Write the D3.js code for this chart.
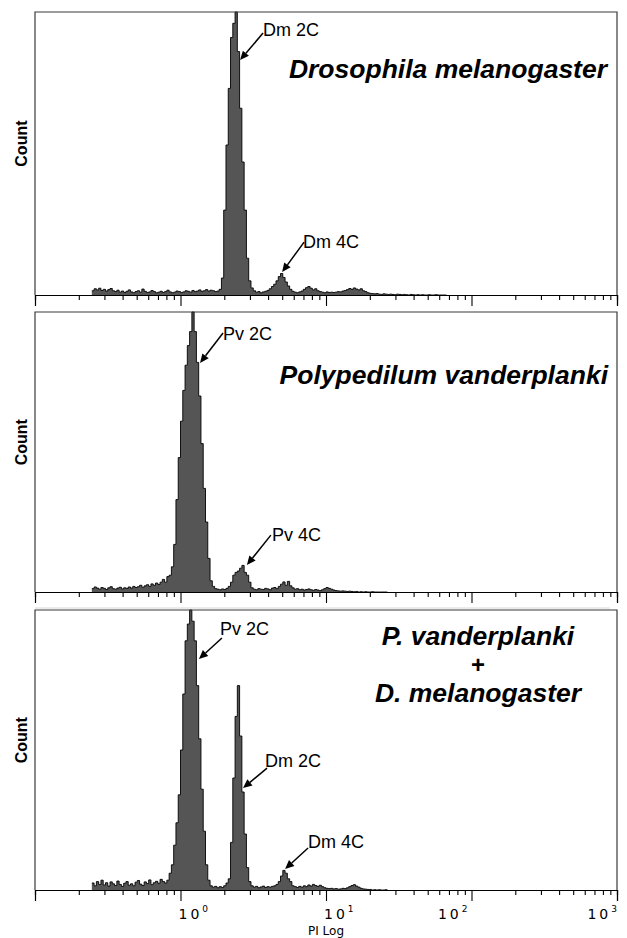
<!DOCTYPE html>
<html>
<head>
    <meta charset="utf-8">
    <title>PI Log histograms</title>
    <script src="https://d3js.org/d3.v7.min.js" charset="utf-8"></script>
    <style>
        html, body { margin: 0; padding: 0; background: #fff; }
        text { font-family: "Liberation Sans", Arial, sans-serif; }
    </style>
</head>
<body>
<div id="chart"></div>
<script>
    // histogram channels: 64 per decade, first stored channel is 25
    const channelsPerDecade = 64;
    const firstChannel = 25;

    // Drosophila melanogaster alone (percent of full scale)
    const dmCounts = [
        1.5, 2.2, 1.8, 2.4, 1.6, 2.0, 1.4, 1.9, 2.3, 1.5,
        1.2, 1.7, 1.0, 1.4, 0.9, 1.3, 1.8, 1.1, 0.8, 1.2,
        1.5, 1.0, 2.1, 1.3, 0.9, 1.1, 1.6, 1.2, 0.8, 1.0,
        1.3, 0.9, 1.2, 1.7, 1.1, 0.8, 1.0, 1.4, 1.2, 0.9,
        1.1, 1.5, 1.3, 1.0, 1.6, 1.2, 1.4, 1.8, 1.3, 1.5,
        1.9, 1.4, 1.7, 1.5, 1.2, 1.4,
        2.0, 6, 30, 53, 73, 91, 96, 100, 86, 66,
        47, 30, 13, 5, 2.5, 1.5, 1.0, 1.2, 0.8, 1.1,
        1.3, 1.6, 2.2, 3.0, 3.8, 5.0, 6.5, 7.6, 6.2, 4.6,
        3.2, 2.0, 1.3, 1.0, 0.8, 1.1, 1.4, 2.0, 2.6, 3.0,
        2.4, 1.8, 2.2, 1.5, 1.2, 1.0, 0.8, 1.1, 0.9, 1.0,
        0.9, 1.0, 1.2, 1.1, 1.4, 1.6, 1.9, 2.3, 2.0, 2.5,
        2.1, 1.8, 2.2, 1.5, 1.2, 0.8, 0.6, 0.5, 0.4, 0.5,
        0.3, 0.2, 0.4, 0.3, 0.2, 0.3, 0.2, 0.1, 0.3, 0.2,
        0.1, 0.2, 0.1, 0, 0.2, 0.1, 0, 0.1, 0, 0.1,
        0, 0, 0.1, 0, 0, 0.1, 0, 0, 0, 0
    ];

    // Polypedilum vanderplanki alone
    const pvCounts = [
        1.2, 1.8, 1.4, 1.0, 1.6, 1.3, 0.9, 1.5, 1.9, 1.2,
        1.0, 1.4, 1.7, 1.1, 1.5, 1.3, 1.8, 1.4, 2.0, 1.6,
        1.9, 2.4, 1.7, 2.2, 2.6, 2.0, 2.9, 2.4, 3.2, 2.7,
        3.5, 4.5, 3.5, 5.5, 6, 9, 17, 33, 48, 61,
        72, 81, 88, 93, 100, 93, 82, 70, 53, 37,
        25, 12, 4, 2, 1.2, 1.0, 0.8, 1.1, 0.9, 1.3,
        2, 3.5, 6, 7, 7.5, 8.5, 9.5, 7, 6, 3.5,
        1.5, 1.0, 0.8, 1.2, 1.0, 0.9, 1.3, 1.1, 0.8, 1.4,
        1.6, 1.2, 2.0, 2.8, 3.6, 2.4, 3.8, 2.2, 1.5, 1.0,
        1.2, 0.8, 1.0, 0.7, 0.9, 1.1, 0.8, 0.6, 0.9, 0.7,
        0.5, 0.8, 1.2, 1.6, 1.3, 1.0, 0.7, 0.5, 0.4, 0.3,
        0.4, 0.3, 0.2, 0.3, 0.2, 0.1, 0.2, 0, 0.1, 0,
        0.1, 0, 0, 0.1, 0, 0, 0, 0, 0, 0
    ];

    // mixed sample P. vanderplanki + D. melanogaster
    const mixCounts = [
        2.5, 1.5, 3.0, 2.0, 3.5, 1.8, 2.6, 1.4, 2.9, 2.2,
        1.6, 3.2, 2.0, 1.3, 2.4, 3.0, 1.7, 2.2, 1.5, 2.8,
        3.4, 2.1, 1.6, 2.9, 2.3, 3.6, 1.9, 2.6, 3.1, 2.4,
        3.8, 3, 2.5, 3.5, 6, 9, 16, 24, 34, 50,
        70, 89, 95, 100, 96, 89, 73, 54, 36, 21,
        9, 3.5, 1.5, 1.0, 1.3, 0.8, 1.2, 0.9, 1.5, 2.5,
        4, 17, 40, 62, 73, 55, 35, 20, 8, 3,
        1.5, 1.0, 1.3, 0.8, 1.1, 1.4, 0.9, 1.2, 1.0, 1.3,
        1.5, 2, 3, 5, 7, 6, 4, 3, 1.5, 1.2,
        0.9, 1.3, 1.0, 1.5, 1.2, 1.8, 1.4, 2.0, 1.6, 1.3,
        1.7, 1.2, 0.8, 0.6, 0.5, 0.6, 0.4, 0.5, 0.3, 0.4,
        0.6, 0.5, 0.8, 1.2, 1.6, 1.9, 1.4, 1.0, 0.6, 0.4,
        0.3, 0.2, 0.2, 0, 0.1, 0, 0.1, 0, 0, 0.1
    ];

    const panelTitles = [
        ["Drosophila melanogaster"],
        ["Polypedilum vanderplanki"],
        ["P. vanderplanki", "+", "D. melanogaster"]
    ];

    // peak labels: channel and count the arrow points at
    const peakLabels = [
        [{ text: "Dm 2C", ch: 89.7, count: 83 }, { text: "Dm 4C", ch: 108.2, count: 8.1 }],
        [{ text: "Pv 2C", ch: 72.1, count: 81.8 }, { text: "Pv 4C", ch: 92.7, count: 9.6 }],
        [{ text: "Pv 2C", ch: 71.6, count: 82.5 }, { text: "Dm 2C", ch: 91.0, count: 36.4 },
         { text: "Dm 4C", ch: 109.5, count: 7.5 }]
    ];

    const majorTicks = [1, 10, 100, 1000];
    const tickExponents = ["0", "1", "2", "3"];

    // layout
    const width = 627, height = 938;
    const left = 35, right = 617;
    const panelTop = [12, 312, 610];
    const panelHeight = [283, 280, 280];
    const arrowTail = [[[23, -27], [22, -30]], [[23, -30], [24, -30]], [[23, -21], [24, -20], [23, -21]]];
    const labelPos = [[[23, -24], [21, -24]], [[23, -23], [25, -24]], [[21, -24], [22, -21], [23, -21]]];
    const titleLayout = [
        { x: 607, y: 66, anchor: "end" },
        { x: 608, y: 72, anchor: "end" },
        { x: 478, y: 35, anchor: "middle" }
    ];
    const titleLineY = [0, 28, 57];
    const titleLineSize = ["26.5px", "24px", "26.5px"];
    const labelAnchor = ["start", "start", "end", "end"];
    const labelShift = [-2, -2, -4, 0];

    const svg = d3.select("#chart").append("svg")
        .attr("width", width)
        .attr("height", height);

    const x = d3.scaleLog().domain([0.1, 1000]).range([0, right - left]);
    const edge = c => 0.1 * Math.pow(10, c / channelsPerDecade);

    const minorTicks = [];
    [0.1, 1, 10, 100].forEach(d => { for (let k = 2; k <= 9; k++) minorTicks.push(d * k); });

    const datasets = [dmCounts, pvCounts, mixCounts];

    // faint scan line between the second and third panel
    svg.append("line")
        .attr("x1", left).attr("x2", 610)
        .attr("y1", 608).attr("y2", 608)
        .attr("stroke", "#d8d8d8");

    datasets.forEach((counts, p) => {
        const h = panelHeight[p];
        const g = svg.append("g").attr("transform", `translate(${left},${panelTop[p]})`);
        const y = d3.scaleLinear().domain([0, 100]).range([h, 0]);

        const bins = counts.map((v, i) => ({ v0: edge(firstChannel + i), v: v }));
        bins.push({ v0: edge(firstChannel + counts.length), v: counts[counts.length - 1] });

        const area = d3.area()
            .curve(d3.curveStepAfter)
            .x(d => x(d.v0))
            .y0(h)
            .y1(d => y(d.v));
        const line = d3.line()
            .curve(d3.curveStepAfter)
            .x(d => x(d.v0))
            .y(d => y(d.v));

        g.append("path").datum(bins)
            .attr("fill", "#555555")
            .attr("d", area);
        g.append("path").datum(bins)
            .attr("fill", "none")
            .attr("stroke", "#000")
            .attr("stroke-width", 0.9)
            .attr("d", line);

        // frame: left, top, right
        g.append("path")
            .attr("d", `M0,${h}V0H${right - left}V${h}`)
            .attr("fill", "none")
            .attr("stroke", "#3a3a3a")
            .attr("stroke-width", 1.2);

        // log axis
        const minorAxis = d3.axisBottom(x).tickValues(minorTicks).tickSize(5).tickFormat("");
        const majorAxis = d3.axisBottom(x).tickValues(majorTicks).tickSize(11).tickFormat("");
        const ax = g.append("g").attr("transform", `translate(0,${h})`);
        ax.append("g").call(minorAxis);
        ax.append("g").call(majorAxis);
        ax.selectAll(".domain").attr("stroke", "#000").attr("stroke-width", 1.2);
        ax.selectAll(".tick line").attr("stroke", "#000").attr("stroke-width", 1.1);

        // Count label
        svg.append("text")
            .attr("transform", `translate(27,${panelTop[p] + h * 0.465}) rotate(-90)`)
            .attr("text-anchor", "middle")
            .style("font-size", "16px")
            .style("font-weight", "bold")
            .text("Count");

        // species title
        const tl = titleLayout[p];
        panelTitles[p].forEach((t, i) => {
            g.append("text")
                .attr("x", tl.x - left)
                .attr("y", tl.y + titleLineY[i])
                .attr("text-anchor", tl.anchor)
                .style("font-size", panelTitles[p].length > 1 ? titleLineSize[i] : "26.5px")
                .style("font-weight", "bold")
                .style("font-style", panelTitles[p][i] === "+" ? "normal" : "italic")
                .text(t);
        });

        // peak labels with arrows
        peakLabels[p].forEach((a, i) => {
            const tx = x(edge(a.ch + 0.5)), ty = y(a.count);
            const [dx, dy] = arrowTail[p][i];
            const len = Math.hypot(dx, dy), ux = dx / len, uy = dy / len;
            const head = 9, half = 4;
            const bx = tx + ux * head, by = ty + uy * head;
            g.append("line")
                .attr("x1", bx).attr("y1", by)
                .attr("x2", tx + dx).attr("y2", ty + dy)
                .attr("stroke", "#000")
                .attr("stroke-width", 1.5);
            g.append("path")
                .attr("d", `M${tx},${ty}L${bx - uy * half},${by + ux * half}L${bx + uy * half},${by - ux * half}Z`)
                .attr("fill", "#000");
            g.append("text")
                .attr("x", tx + labelPos[p][i][0])
                .attr("y", ty + labelPos[p][i][1])
                .style("font-size", "18px")
                .text(a.text);
        });

        // tick labels and axis title on the bottom panel only
        if (p === datasets.length - 1) {
            majorTicks.forEach((v, i) => {
                const t = g.append("text")
                    .attr("x", x(v) + labelShift[i])
                    .attr("y", h + 29)
                    .attr("text-anchor", labelAnchor[i])
                    .style("font-family", "'DejaVu Sans', sans-serif")
                    .style("font-size", "14px");
                t.append("tspan").style("letter-spacing", "3px").text("10");
                t.append("tspan").attr("dy", -7).style("font-size", "9px").text(tickExponents[i]);
            });
            g.append("text")
                .attr("x", (right - left) / 2)
                .attr("y", h + 45)
                .attr("text-anchor", "middle")
                .style("font-family", "'DejaVu Sans', sans-serif")
                .style("font-size", "12px")
                .text("PI Log");
        }
    });
</script>
</body>
</html>
